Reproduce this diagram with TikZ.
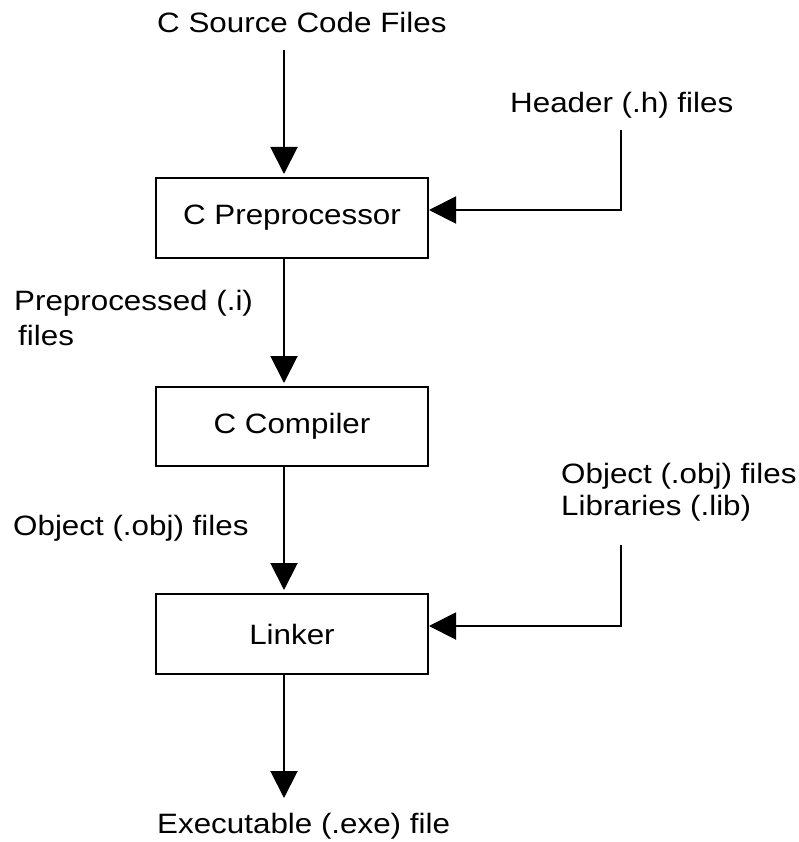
\documentclass[tikz,border=0pt]{standalone}
\usepackage{fontspec}
\setmainfont[FakeStretch=1.12]{Liberation Sans}
\usetikzlibrary{arrows.meta,calc}
\begin{document}
\begin{tikzpicture}[x=1pt,y=-1pt,
  every node/.style={font=\fontsize{28}{33}\selectfont},
  procbox/.style={draw,line width=2pt,minimum width=272pt,minimum height=80pt,inner sep=0pt},
  lbl/.style={anchor=base west,inner sep=0pt},
  arr/.style={line width=2pt,-{Triangle[width=27pt,length=27pt]}}]
\useasboundingbox (0,0) rectangle (799,842);
\node[procbox] (pre) at (292,218) {C Preprocessor};
\node[procbox,minimum height=79pt] (cc) at (292,426.5) {C Compiler};
\node[procbox] (lnk) at (292,634) {Linker};
\node[lbl] (src) at (157,33) {C Source Code Files};
\node[lbl] (hdr) at (510,113) {Header (.h) files};
\node[lbl] (ppa) at (14,310) {Preprocessed (.i)};
\node[lbl] (ppb) at (18,345) {files};
\node[lbl] (obl) at (13,535) {Object (.obj) files};
\node[lbl] (obra) at (561,483) {Object (.obj) files};
\node[lbl] (obrb) at (561,515) {Libraries (.lib)};
\node[lbl] (exe) at (157,833) {Executable (.exe) file};
\coordinate (s0) at (284,50);
\coordinate (h0) at (621,130);
\coordinate (l0) at (621,545);
\coordinate (e0) at (284,798);
\draw[arr,shorten >=3pt] (s0) -- (s0 |- pre.north);
\draw[arr] (h0) |- ($(pre.east)+(0,-8)$);
\draw[arr,shorten >=3pt] (s0 |- pre.south) -- (s0 |- cc.north);
\draw[arr,shorten >=3pt] (s0 |- cc.south) -- (s0 |- lnk.north);
\draw[arr] (l0) |- ($(lnk.east)+(0,-8)$);
\draw[arr] (s0 |- lnk.south) -- (e0);
\end{tikzpicture}
\end{document}
